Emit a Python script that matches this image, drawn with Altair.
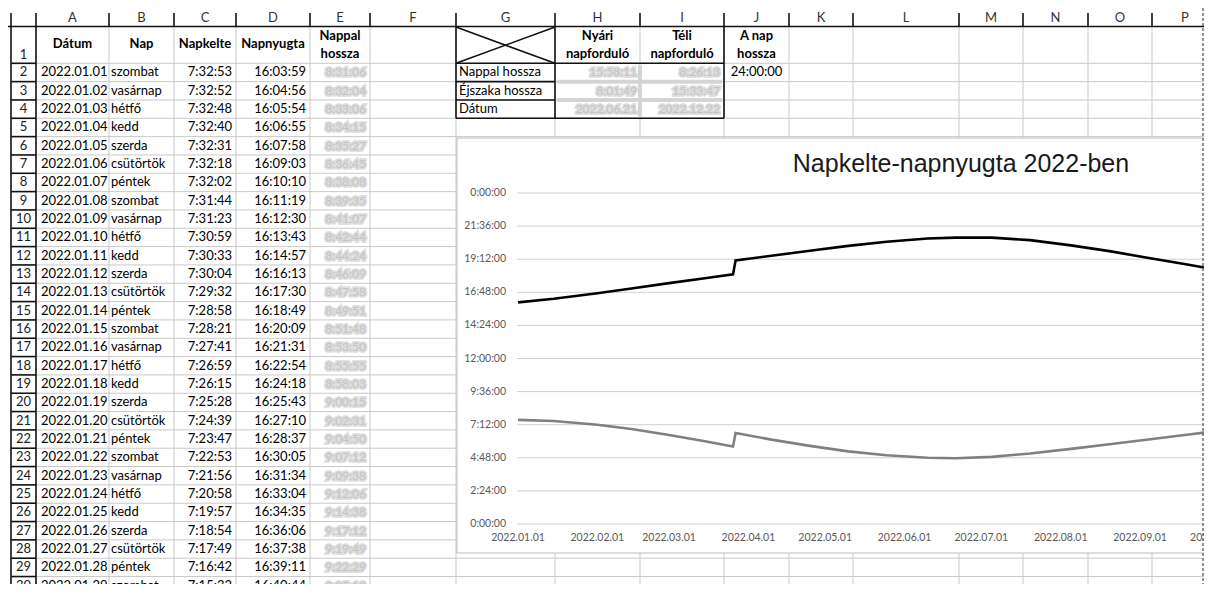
import altair as alt
import pandas as pd

# ---------------- data ----------------
dates = ["2022.01.01", "2022.01.02", "2022.01.03", "2022.01.04", "2022.01.05",
         "2022.01.06", "2022.01.07", "2022.01.08", "2022.01.09", "2022.01.10",
         "2022.01.11", "2022.01.12", "2022.01.13", "2022.01.14", "2022.01.15",
         "2022.01.16", "2022.01.17", "2022.01.18", "2022.01.19", "2022.01.20",
         "2022.01.21", "2022.01.22", "2022.01.23", "2022.01.24", "2022.01.25",
         "2022.01.26", "2022.01.27", "2022.01.28", "2022.01.29"]
weekdays = ["szombat", "vasárnap", "hétfő", "kedd", "szerda", "csütörtök", "péntek",
            "szombat", "vasárnap", "hétfő", "kedd", "szerda", "csütörtök", "péntek",
            "szombat", "vasárnap", "hétfő", "kedd", "szerda", "csütörtök", "péntek",
            "szombat", "vasárnap", "hétfő", "kedd", "szerda", "csütörtök", "péntek",
            "szombat"]
sunrise = ["7:32:53", "7:32:52", "7:32:48", "7:32:40", "7:32:31", "7:32:18", "7:32:02",
           "7:31:44", "7:31:23", "7:30:59", "7:30:33", "7:30:04", "7:29:32", "7:28:58",
           "7:28:21", "7:27:41", "7:26:59", "7:26:15", "7:25:28", "7:24:39", "7:23:47",
           "7:22:53", "7:21:56", "7:20:58", "7:19:57", "7:18:54", "7:17:49", "7:16:42",
           "7:15:32"]
sunset = ["16:03:59", "16:04:56", "16:05:54", "16:06:55", "16:07:58", "16:09:03", "16:10:10",
          "16:11:19", "16:12:30", "16:13:43", "16:14:57", "16:16:13", "16:17:30", "16:18:49",
          "16:20:09", "16:21:31", "16:22:54", "16:24:18", "16:25:43", "16:27:10", "16:28:37",
          "16:30:05", "16:31:34", "16:33:04", "16:34:35", "16:36:06", "16:37:38", "16:39:11",
          "16:40:44"]

header_cols = ["A", "B", "C", "D", "E", "F", "G", "H", "I", "J", "K", "L", "M", "N", "O", "P"]
summary_rows = ["Nappal hossza", "Éjszaka hossza", "Dátum"]
summer_vals = ["15:58:11", "8:01:49", "2022.06.21"]
winter_vals = ["8:26:13", "15:33:47", "2022.12.22"]
full_day = "24:00:00"

chart_title = "Napkelte-napnyugta 2022-ben"
line_dates = ["2022-01-01", "2022-01-15", "2022-02-01", "2022-02-15", "2022-03-01",
              "2022-03-15", "2022-03-26", "2022-03-27", "2022-04-10", "2022-04-25",
              "2022-05-10", "2022-05-25", "2022-06-10", "2022-06-21", "2022-07-05",
              "2022-07-20", "2022-08-05", "2022-08-20", "2022-09-05", "2022-09-20",
              "2022-09-30"]
line_rise = ["7:33", "7:28", "7:12", "6:52", "6:27", "6:00", "5:37", "6:36", "6:07", "5:40",
             "5:16", "4:59", "4:48", "4:46", "4:52", "5:07", "5:27", "5:47", "6:09", "6:29",
             "6:43"]
line_set = ["16:04", "16:20", "16:44", "17:06", "17:28", "17:49", "18:06", "19:07", "19:27",
            "19:49", "20:10", "20:28", "20:42", "20:46", "20:46", "20:35", "20:12", "19:47",
            "19:16", "18:48", "18:28"]
y_ticks = [0, 2.4, 4.8, 7.2, 9.6, 12, 14.4, 16.8, 19.2, 21.6, 24]
y_tick_labels = ["0:00:00", "2:24:00", "4:48:00", "7:12:00", "9:36:00", "12:00:00",
                 "14:24:00", "16:48:00", "19:12:00", "21:36:00", "0:00:00"]
x_ticks = ["2022-01-01", "2022-02-01", "2022-03-01", "2022-04-01", "2022-05-01",
           "2022-06-01", "2022-07-01", "2022-08-01", "2022-09-01", "2022-10-01"]
x_tick_labels = ["2022.01.01", "2022.02.01", "2022.03.01", "2022.04.01", "2022.05.01",
                 "2022.06.01", "2022.07.01", "2022.08.01", "2022.09.01", "2022.10.01"]


def secs(s):
    p = [int(v) for v in s.split(":")]
    while len(p) < 3:
        p.append(0)
    return p[0] * 3600 + p[1] * 60 + p[2]


def fmt(t):
    return f"{t // 3600}:{t % 3600 // 60:02d}:{t % 60:02d}"


day_len = [fmt(secs(b) - secs(a)) for a, b in zip(sunrise, sunset)]

# ---------------- layout (sheet geometry, screen pixels) ----------------
W, H = 1196, 576
edges = [11, 36, 109, 174, 236, 310, 370, 456, 555, 640, 724, 789, 853, 959, 1023, 1088, 1152, 1218]
RH = 18.33
R2 = 63.3


def rtop(r):
    return 27.0 if r == 1 else R2 + (r - 2) * RH


def rmid(r):
    return rtop(r) + RH / 2


sx = alt.Scale(domain=[8, 1204], range=[0, W], zero=False, nice=False)
sy = alt.Scale(domain=[8, 584], range=[0, H], zero=False, nice=False)


def rules(rows, color, width, dash=None):
    df = pd.DataFrame(rows, columns=["x", "x2", "y", "y2"])
    kw = dict(color=color, strokeWidth=width)
    if dash:
        kw["strokeDash"] = dash
    return alt.Chart(df).mark_rule(**kw).encode(
        x=alt.X("x:Q", scale=sx, axis=None), x2="x2:Q",
        y=alt.Y("y:Q", scale=sy, axis=None), y2="y2:Q")


def texts(rows, align="left", bold=False, color="#000000", size=13, **kw):
    df = pd.DataFrame(rows, columns=["x", "y", "t"])
    return alt.Chart(df).mark_text(
        align=align, baseline="middle", fontWeight="bold" if bold else "normal",
        color=color, fontSize=size, font="Lato", **kw).encode(
        x=alt.X("x:Q", scale=sx, axis=None),
        y=alt.Y("y:Q", scale=sy, axis=None),
        text="t:N")


# gray grid
gray = []
for r in range(2, 32):
    gray.append((36, 1204, rtop(r), rtop(r)))
for e in edges[2:-1]:
    gray.append((e, e, 27, 592))
# black lines
black = [(0, 1204, 26.5, 26.5)]
for e in edges[:-1]:
    black.append((e, e, 13, 26.5))
black += [(11, 11, 26.5, 592), (36, 36, 26.5, 592)]
for r in range(2, 32):
    black.append((11, 36, rtop(r), rtop(r)))
G0, G1, H1, I1 = 456, 555, 640, 724
black += [(G0, G0, 27, rtop(5)), (G1, G1, 27, rtop(5)), (I1, I1, 27, rtop(5)),
          (G0, I1, rtop(2), rtop(2)), (G0, G1, rtop(3), rtop(3)), (G0, G1, rtop(4), rtop(4)),
          (G0, I1, rtop(5), rtop(5)),
          (G0, G1, 27, rtop(2)), (G0, G1, rtop(2), 27)]
blur_band = [(G1 + 2, I1 - 2, rtop(3), rtop(3)), (G1 + 2, I1 - 2, rtop(4), rtop(4)),
             (H1, H1, rtop(2) + 2, rtop(5) - 2)]

# texts
col_letters = [((edges[i + 1] + edges[i + 2]) / 2, 18, c) for i, c in enumerate(header_cols)]
row_nums = [(23.5, 55, "1")] + [(23.5, rmid(r), str(r)) for r in range(2, 31)]
left_txt = []
right_txt = []
blur_txt = []
for i in range(len(dates)):
    r = i + 2
    left_txt.append((41, rmid(r), dates[i]))
    left_txt.append((111, rmid(r), weekdays[i]))
    right_txt.append((232, rmid(r), sunrise[i]))
    right_txt.append((306, rmid(r), sunset[i]))
    blur_txt.append((366, rmid(r), day_len[i]))
for i, lab in enumerate(summary_rows):
    left_txt.append((459, rmid(i + 2), lab))
    blur_txt.append((637, rmid(i + 2), summer_vals[i]))
    blur_txt.append((720, rmid(i + 2), winter_vals[i]))
center_txt = [(756.5, rmid(2), full_day)]
bold_txt = [(72.5, 44, "Dátum"), (141.5, 44, "Nap"), (205, 44, "Napkelte"), (273, 44, "Napnyugta"),
            (340, 36, "Nappal"), (340, 54, "hossza"),
            (597.5, 36, "Nyári"), (597.5, 54, "napforduló"),
            (682, 36, "Téli"), (682, 54, "napforduló"),
            (756.5, 36, "A nap"), (756.5, 54, "hossza")]

sheet = alt.layer(
    rules(gray, "#c9c9c9", 1),
    rules(blur_band, "#d4d4d4", 4),
    rules(black, "#111111", 1.6),
    texts(col_letters, align="center", color="#333333", size=13),
    texts(row_nums, align="center", color="#222222", size=13),
    texts(left_txt, align="left"),
    texts(right_txt, align="right"),
    texts(center_txt, align="center"),
    texts(bold_txt, align="center", bold=True),
    texts(blur_txt, align="right", color="#c0c0c0", size=12, stroke="#dcdcdc", strokeWidth=3.5),
    texts(blur_txt, align="right", color="#a8a8a8", size=12, opacity=0.45),
)

# ---------------- embedded line chart ----------------
PX_DAY = 2.56
xs = alt.Scale(type="utc",
               domain=[alt.DateTime(year=2022, month=1, date=1, utc=True),
                       alt.DateTime(year=2022, month=12, date=31, utc=True)],
               range=[510, 510 + 364 * PX_DAY])
ys = alt.Scale(domain=[0, 24], range=[516, 185], zero=False, nice=False)

lines_df = pd.DataFrame({
    "date": line_dates,
    "rise": [secs(v) / 3600 for v in line_rise],
    "set": [secs(v) / 3600 for v in line_set],
})
ytick_df = pd.DataFrame({"h": y_ticks, "lab": y_tick_labels})
xtick_df = pd.DataFrame({"d": x_ticks, "lab": x_tick_labels})
one = pd.DataFrame({"t": [chart_title]})

box = alt.Chart(one).mark_rect(fill="white", stroke="#bdbdbd", strokeWidth=1).encode(
    x=alt.value(449), x2=alt.value(1260), y=alt.value(130), y2=alt.value(545))
grid = alt.Chart(ytick_df).mark_rule(color="#d0d0d0", strokeWidth=1).encode(
    y=alt.Y("h:Q", scale=ys, axis=None), x=alt.value(509), x2=alt.value(W))
ylabs = alt.Chart(ytick_df).mark_text(align="right", baseline="middle", font="Lato",
                                      fontSize=10.5, color="#595959").encode(
    y=alt.Y("h:Q", scale=ys, axis=None), x=alt.value(498), text="lab:N")
xlabs = alt.Chart(xtick_df).mark_text(align="center", baseline="middle", font="Lato",
                                      fontSize=10.5, color="#595959").encode(
    x=alt.X("d:T", scale=xs, axis=None), y=alt.value(530), text="lab:N")
rise_line = alt.Chart(lines_df).mark_line(color="#808080", strokeWidth=2.6).encode(
    x=alt.X("date:T", scale=xs, axis=None), y=alt.Y("rise:Q", scale=ys, axis=None))
set_line = alt.Chart(lines_df).mark_line(color="#000000", strokeWidth=2.6).encode(
    x=alt.X("date:T", scale=xs, axis=None), y=alt.Y("set:Q", scale=ys, axis=None))
title = alt.Chart(one).mark_text(align="center", baseline="alphabetic", font="Liberation Sans",
                                 fontSize=25, color="#1a1a1a").encode(
    x=alt.value(953), y=alt.value(164), text="t:N")

inner = alt.layer(box, grid, ylabs, xlabs, rise_line, set_line, title)

edge = alt.Chart(one).mark_rule(color="#666666", strokeWidth=1.4, strokeDash=[3, 2]).encode(
    x=alt.value(W - 1), y=alt.value(0), y2=alt.value(H))

chart = alt.layer(sheet, inner, edge).resolve_scale(
    x="independent", y="independent"
).properties(
    width=W, height=H, padding=0, autosize="none", background="white"
).configure_view(stroke=None)

chart.save("out.html", embed_options={"renderer": "svg", "actions": False})
